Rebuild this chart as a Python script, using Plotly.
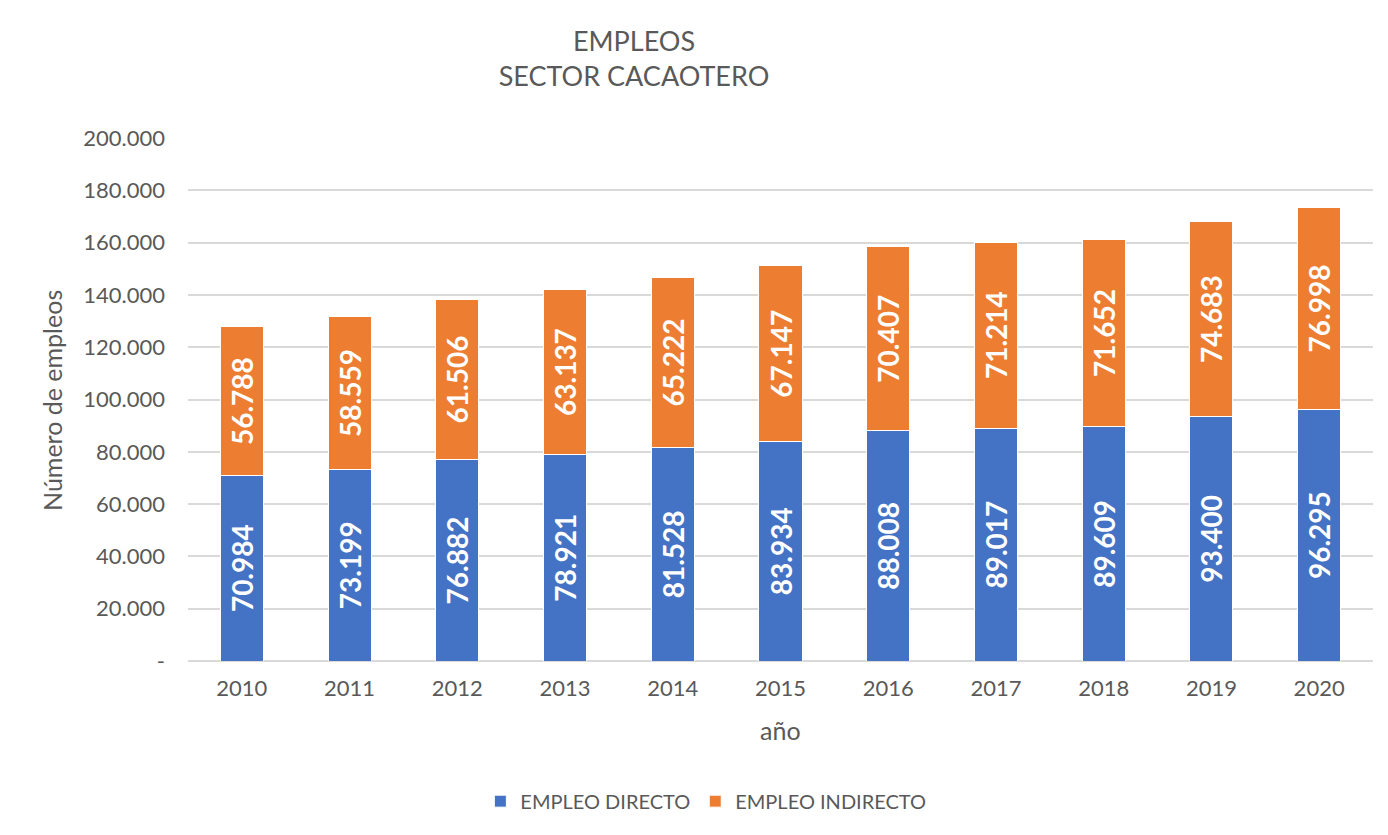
import plotly.graph_objects as go

anios = ["2010", "2011", "2012", "2013", "2014", "2015", "2016", "2017", "2018", "2019", "2020"]
directo = [70984, 73199, 76882, 78921, 81528, 83934, 88008, 89017, 89609, 93400, 96295]
indirecto = [56788, 58559, 61506, 63137, 65222, 67147, 70407, 71214, 71652, 74683, 76998]

y_ticks = [0, 20000, 40000, 60000, 80000, 100000, 120000, 140000, 160000, 180000, 200000]
y_labels = ["-", "20.000", "40.000", "60.000", "80.000", "100.000", "120.000",
            "140.000", "160.000", "180.000", "200.000"]

def fmt(v):
    return "{:,}".format(v).replace(",", ".")

gris = "#595959"
fuente = "Lato, Open Sans, sans-serif"

fig = go.Figure()
fig.add_trace(go.Bar(
    x=anios, y=directo, name="EMPLEO DIRECTO",
    marker=dict(color="#4472C4", line=dict(color="white", width=1)),
    text=[fmt(v) for v in directo], textposition="inside", textangle=-90,
    insidetextanchor="middle",
    textfont=dict(color="white", size=28, family=fuente, weight="bold"),
    hoverinfo="skip",
))
fig.add_trace(go.Bar(
    x=anios, y=indirecto, name="EMPLEO INDIRECTO",
    marker=dict(color="#ED7D31", line=dict(color="white", width=1)),
    text=[fmt(v) for v in indirecto], textposition="inside", textangle=-90,
    insidetextanchor="middle",
    textfont=dict(color="white", size=28, family=fuente, weight="bold"),
    hoverinfo="skip",
))

# the page puts the figure 8px in from the top-left corner
fig.update_layout(
    barmode="stack",
    bargap=0.6,
    width=1380, height=827,
    margin=dict(l=180, r=15, t=130, b=174),
    paper_bgcolor="white",
    plot_bgcolor="white",
    font=dict(family=fuente, color=gris, size=20),
    title=dict(text="EMPLEOS<br>SECTOR CACAOTERO", x=626 / 1380, xanchor="center",
               y=1 - 43 / 827, yanchor="middle",
               font=dict(size=27, color=gris, family=fuente)),
    legend=dict(orientation="h", x=0.437, xanchor="center", y=-0.268, yanchor="middle",
                font=dict(size=20, color=gris), traceorder="normal",
                bgcolor="rgba(0,0,0,0)"),
    annotations=[
        dict(text="año", xref="paper", yref="paper", x=0.4996, y=-0.132,
             xanchor="center", yanchor="middle", showarrow=False,
             font=dict(size=25, color=gris)),
        dict(text="Número de empleos", xref="paper", yref="paper", x=-0.1148, y=0.499,
             xanchor="center", yanchor="middle", showarrow=False, textangle=-90,
             font=dict(size=25, color=gris)),
    ],
)

fig.update_xaxes(
    showgrid=False, showline=False, ticks="",
    tickfont=dict(size=22, color=gris), ticklabelstandoff=12,
)
fig.update_yaxes(
    range=[0, 200000], tickvals=y_ticks, ticktext=y_labels,
    showgrid=True, gridcolor="#D9D9D9", gridwidth=1.5,
    zeroline=True, zerolinecolor="#D9D9D9", zerolinewidth=1.5,
    ticks="", tickfont=dict(size=22, color=gris), ticklabelstandoff=22,
)

fig.write_html("out.html")
